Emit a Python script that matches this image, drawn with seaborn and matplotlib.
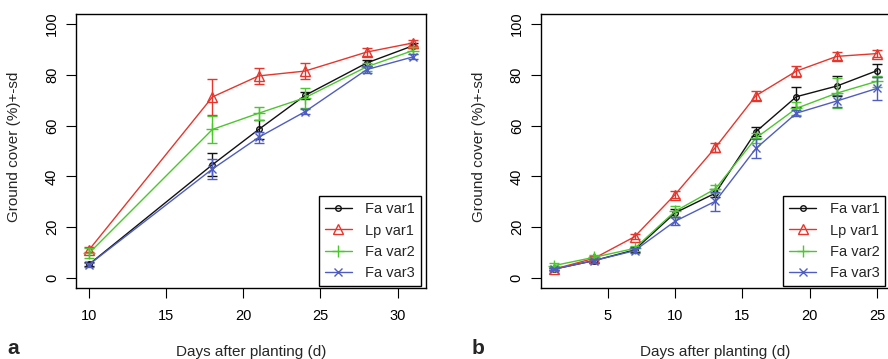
import matplotlib
matplotlib.use("Agg")
import matplotlib.pyplot as plt
from matplotlib.lines import Line2D
import seaborn as sns
import pandas as pd

# ---------------- data ----------------
series_names = ["Fa var1", "Lp var1", "Fa var2", "Fa var3"]

days_a = [10, 18, 21, 24, 28, 31]
fa1_a = [5.3, 44.6, 58.5, 71.9, 84.7, 91.5]
fa1_a_sd = [0.8, 4.6, 3.6, 1.4, 1.2, 1.0]
lp1_a = [11.0, 71.3, 79.6, 81.5, 89.0, 92.6]
lp1_a_sd = [1.0, 7.0, 3.2, 3.2, 1.6, 1.2]
fa2_a = [9.7, 58.5, 64.9, 71.0, 83.2, 89.6]
fa2_a_sd = [2.0, 5.4, 2.5, 3.9, 1.5, 1.5]
fa3_a = [5.2, 42.9, 55.4, 65.5, 82.1, 87.1]
fa3_a_sd = [0.8, 4.0, 2.2, 1.0, 1.5, 1.0]

days_b = [1, 4, 7, 10, 13, 16, 19, 22, 25]
fa1_b = [3.4, 6.8, 11.0, 25.6, 33.4, 57.6, 71.4, 75.6, 81.7]
fa1_b_sd = [0.5, 0.8, 1.0, 1.5, 1.5, 1.8, 4.0, 3.9, 2.5]
lp1_b = [3.4, 7.7, 16.2, 32.8, 51.4, 71.8, 81.5, 87.3, 88.4]
lp1_b_sd = [0.8, 0.8, 1.0, 1.5, 1.8, 1.8, 2.2, 1.6, 1.4]
fa2_b = [4.8, 8.1, 11.6, 26.2, 35.1, 55.1, 66.8, 72.8, 77.5]
fa2_b_sd = [1.0, 0.8, 1.0, 2.3, 1.5, 2.0, 2.5, 6.0, 2.2]
fa3_b = [3.4, 6.8, 10.7, 22.3, 30.2, 51.0, 64.9, 69.7, 74.7]
fa3_b_sd = [0.5, 0.8, 1.0, 1.5, 3.7, 3.8, 1.2, 2.3, 4.6]

xticks_a = [10, 15, 20, 25, 30]
xticks_b = [5, 10, 15, 20, 25]
yticks = [0, 20, 40, 60, 80, 100]

xlabel = "Days after planting (d)"
ylabel = "Ground cover (%)+-sd"

# ---------------- style ----------------
sns.set_style("ticks")
plt.rcParams["font.family"] = ["Liberation Sans", "DejaVu Sans"]

colors = ["#111111", "#E8352B", "#4CC62D", "#4F5DC2"]
markers = ["o", "^", "+", "x"]
msizes = [4.0, 7.5, 8.0, 6.0]

fig = plt.figure(figsize=(8.88, 3.59), dpi=100)
W, H = 888, 359


def px_axes(left, top, right, bottom):
    return fig.add_axes([left / W, 1 - bottom / H, (right - left) / W, (bottom - top) / H])


ax_a = px_axes(76, 14, 426, 288)
ax_b = px_axes(540.7, 14, 890.2, 288)

panels = [
    (ax_a, days_a, [fa1_a, lp1_a, fa2_a, fa3_a], [fa1_a_sd, lp1_a_sd, fa2_a_sd, fa3_a_sd],
     xticks_a, (9.16, 31.84), "a", 7),
    (ax_b, days_b, [fa1_b, lp1_b, fa2_b, fa3_b], [fa1_b_sd, lp1_b_sd, fa2_b_sd, fa3_b_sd],
     xticks_b, (0.04, 25.96), "b", 472),
]

for ax, days, ys, sds, xt, xlim, letter, letter_x in panels:
    for name, y, sd, c, m, ms in zip(series_names, ys, sds, colors, markers, msizes):
        df = pd.DataFrame({"day": days, "cover": y})
        sns.lineplot(data=df, x="day", y="cover", ax=ax, color=c, marker=m,
                     markersize=ms, markerfacecolor="none", markeredgecolor=c,
                     markeredgewidth=1.0, linewidth=1.0, legend=False)
        ax.errorbar(days, y, yerr=sd, fmt="none", ecolor=c, elinewidth=1.0,
                    capsize=3.6, capthick=1.0)
    ax.set_xlim(*xlim)
    ax.set_ylim(-4, 104)
    ax.set_xticks(xt)
    ax.set_yticks(yticks)
    ax.set_xlabel("")
    ax.set_ylabel("")
    for s in ax.spines.values():
        s.set_visible(True)
        s.set_color("black")
        s.set_linewidth(1.0)
    ax.tick_params(axis="both", direction="out", length=7.2, width=0.8,
                   color="black", labelsize=10.5, labelcolor="black")
    ax.tick_params(axis="x", pad=8)
    ax.tick_params(axis="y", pad=5, labelrotation=90)
    for lbl in ax.get_yticklabels():
        lbl.set_va("center")

    handles = [Line2D([0], [0], color=c, marker=m, markersize=ms, markerfacecolor="none",
                      markeredgecolor=c, markeredgewidth=1.0, linewidth=1.0)
               for c, m, ms in zip(colors, markers, msizes)]
    leg = ax.legend(handles, series_names, loc="lower right",
                    bbox_to_anchor=(1 - 5 / 350, 2 / 274), borderaxespad=0,
                    fancybox=False, framealpha=1, edgecolor="black",
                    fontsize=10.5, handlelength=1.9, handletextpad=0.9,
                    labelspacing=0.5, borderpad=0.4)
    leg.get_frame().set_linewidth(1.0)

    # axis labels and panel letter
    cx = (ax.get_position().x0 + ax.get_position().x1) / 2
    fig.text(cx, 1 - 352 / H, xlabel, ha="center", va="center", fontsize=11)
    fig.text(letter_x / W, 1 - 354 / H, letter, ha="left", va="baseline",
             fontsize=15, fontweight="bold")

fig.text(14 / W, 1 - 147 / H, ylabel, rotation=90, ha="center", va="center", fontsize=11)
fig.text(479 / W, 1 - 147 / H, ylabel, rotation=90, ha="center", va="center", fontsize=11)

fig.savefig("out.png", dpi=100)
